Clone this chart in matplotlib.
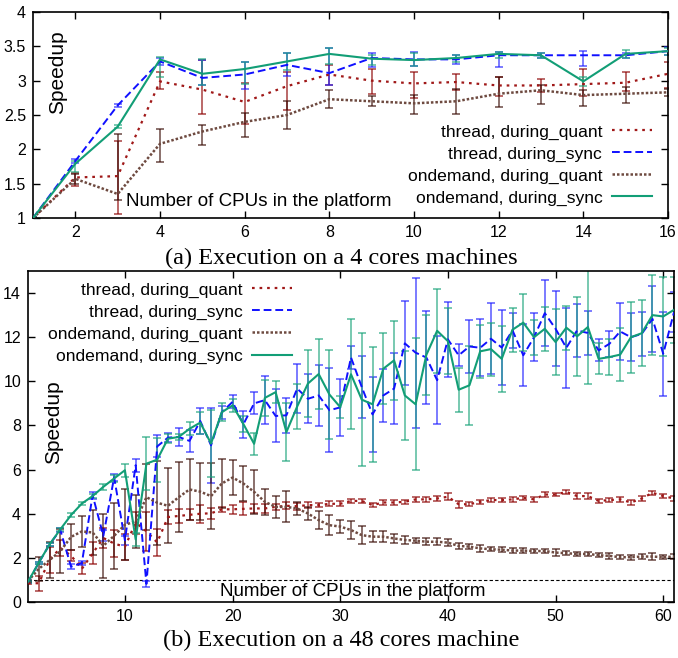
import numpy as np
import matplotlib
matplotlib.use("Agg")
import matplotlib.pyplot as plt

plt.rcParams['font.family'] = ['Liberation Sans', 'DejaVu Sans']

# ---------------- data: 4 cores machine ----------------
cpus4 = list(range(1, 17))
thread_quant_4 = [1.0, 1.59, 1.61, 2.99, 2.87, 2.69, 2.92, 3.09, 3.0, 2.96, 2.98, 2.93, 2.93, 2.95, 2.97, 3.10]
thread_quant_4_lo = [0.02, 0.12, 0.55, 0.11, 0.35, 0.32, 0.34, 0.16, 0.19, 0.21, 0.12, 0.15, 0.10, 0.17, 0.12, 0.20]
thread_quant_4_hi = [0.02, 0.06, 0.51, 0.13, 0.43, 0.28, 0.21, 0.14, 0.17, 0.17, 0.11, 0.12, 0.10, 0.22, 0.16, 0.17]
thread_sync_4 = [1.0, 1.83, 2.64, 3.28, 3.04, 3.09, 3.23, 3.11, 3.33, 3.31, 3.31, 3.37, 3.37, 3.37, 3.37, 3.43]
thread_sync_4_lo = [0.02, 0.03, 0.02, 0.05, 0.11, 0.21, 0.16, 0.18, 0.13, 0.09, 0.06, 0.17, 0.04, 0.15, 0.04, 0.06]
thread_sync_4_hi = [0.02, 0.03, 0.02, 0.05, 0.26, 0.18, 0.17, 0.37, 0.07, 0.11, 0.06, 0.05, 0.04, 0.06, 0.04, 0.06]
ondemand_quant_4 = [1.0, 1.57, 1.35, 2.08, 2.26, 2.40, 2.50, 2.73, 2.70, 2.67, 2.70, 2.81, 2.86, 2.79, 2.81, 2.83]
ondemand_quant_4_lo = [0.02, 0.07, 0.09, 0.26, 0.19, 0.22, 0.20, 0.13, 0.07, 0.15, 0.18, 0.19, 0.20, 0.16, 0.14, 0.05]
ondemand_quant_4_hi = [0.02, 0.07, 0.88, 0.22, 0.10, 0.13, 0.20, 0.14, 0.07, 0.12, 0.18, 0.25, 0.08, 0.08, 0.10, 0.05]
ondemand_sync_4 = [1.0, 1.79, 2.33, 3.31, 3.10, 3.17, 3.28, 3.39, 3.32, 3.30, 3.33, 3.39, 3.37, 2.99, 3.39, 3.43]
ondemand_sync_4_lo = [0.02, 0.12, 0.02, 0.26, 0.17, 0.22, 0.13, 0.14, 0.09, 0.08, 0.06, 0.06, 0.04, 0.07, 0.06, 0.05]
ondemand_sync_4_hi = [0.02, 0.04, 0.02, 0.04, 0.22, 0.10, 0.12, 0.09, 0.06, 0.10, 0.05, 0.03, 0.04, 0.06, 0.06, 0.05]

# ---------------- data: 48 cores machine ----------------
cpus48 = list(range(1, 62))
thread_quant_48 = [0.85, 0.85, 1.9, 2.45, 2.1, 1.5, 2.2, 2.9, 2.65, 2.5, 3.6, 3.2, 2.7, 3.85, 3.9, 3.95, 4.0, 4.02, 4.2, 4.2,
                   4.22, 4.24, 4.24, 4.31, 4.36, 4.34, 4.39, 4.39, 4.45, 4.45, 4.58, 4.58, 4.39, 4.51, 4.51, 4.54, 4.65, 4.65, 4.69, 4.77,
                   4.43, 4.43, 4.54, 4.62, 4.62, 4.65, 4.72, 4.65, 4.87, 4.87, 4.99, 4.8, 4.8, 4.58, 4.62, 4.65, 4.51, 4.69, 4.95, 4.8, 4.69]
thread_quant_48_err = [0.05, 0.35, 0.6, 0.35, 0.25, 0.25, 0.5, 0.45, 0.6, 0.6, 0.5, 0.9, 0.6, 0.3, 0.3, 0.25, 0.4, 0.25, 0.1, 0.2,
                       0.3, 0.2, 0.2, 0.15, 0.15, 0.15, 0.12, 0.1, 0.12, 0.12, 0.1, 0.08, 0.08, 0.1, 0.1, 0.1, 0.12, 0.12, 0.12, 0.15,
                       0.15, 0.1, 0.1, 0.1, 0.1, 0.1, 0.1, 0.12, 0.1, 0.05, 0.1, 0.12, 0.12, 0.08, 0.08, 0.1, 0.1, 0.1, 0.1, 0.08, 0.1]
thread_sync_48 = [0.9, 1.78, 2.61, 3.26, 1.6, 1.76, 4.84, 3.0, 5.65, 2.8, 6.2, 0.82, 7.05, 7.45, 7.48, 7.3, 8.2, 7.1, 8.6, 9.07,
                  8.05, 9.0, 9.15, 8.43, 8.46, 9.67, 9.21, 9.36, 8.69, 8.82, 11.08, 9.74, 8.5, 9.36, 9.67, 11.72, 11.3, 11.08, 10.05, 11.9,
                  11.18, 11.58, 11.52, 11.93, 11.53, 12.31, 11.18, 12.0, 13.09, 12.38, 11.52, 12.31, 12.19, 11.4, 11.7, 12.26, 12.0, 12.15, 12.83, 11.25, 13.13]
thread_sync_48_err = [0.05, 0.05, 0.05, 0.1, 0.1, 0.1, 0.15, 0.25, 0.15, 0.2, 0.3, 0.12, 0.5, 0.2, 0.4, 0.5, 0.6, 1.7, 0.3, 0.3,
                      0.6, 0.5, 1.1, 1.2, 0.8, 1.1, 1.1, 1.4, 1.9, 1.3, 0.5, 1.4, 1.7, 1.2, 1.6, 1.9, 3.4, 2.1, 2.0, 1.7,
                      0.5, 1.2, 1.3, 1.6, 1.7, 0.8, 1.4, 1.1, 1.5, 1.7, 1.8, 1.2, 1.0, 0.5, 0.6, 1.3, 1.1, 1.0, 1.5, 1.9, 0.9]
ondemand_quant_48 = [0.95, 1.5, 1.9, 2.3, 2.95, 3.2, 3.15, 2.55, 3.0, 3.5, 3.65, 4.75, 4.5, 4.36, 4.75, 5.1, 5.0, 4.8, 5.37, 5.64,
                     5.37, 4.99, 4.54, 4.31, 4.31, 4.24, 4.01, 3.71, 3.48, 3.42, 3.26, 3.03, 2.96, 2.96, 2.88, 2.81, 2.78, 2.73, 2.73, 2.69,
                     2.54, 2.51, 2.43, 2.39, 2.37, 2.33, 2.33, 2.31, 2.31, 2.24, 2.21, 2.18, 2.18, 2.12, 2.09, 2.03, 2.03, 2.06, 2.06, 2.03, 2.06]
ondemand_quant_48_err = [0.05, 0.55, 0.8, 1.0, 0.6, 0.7, 1.0, 1.45, 1.5, 1.6, 1.2, 1.5, 1.9, 1.7, 1.6, 1.4, 1.3, 1.5, 1.1, 0.8,
                         0.8, 1.0, 0.6, 0.5, 0.7, 0.3, 0.3, 0.4, 0.45, 0.3, 0.4, 0.4, 0.25, 0.25, 0.2, 0.2, 0.1, 0.15, 0.15, 0.15,
                         0.15, 0.1, 0.15, 0.1, 0.1, 0.1, 0.1, 0.1, 0.1, 0.15, 0.1, 0.1, 0.1, 0.1, 0.15, 0.1, 0.12, 0.1, 0.15, 0.1, 0.12]
ondemand_sync_48 = [0.92, 1.78, 2.61, 3.29, 3.94, 4.46, 4.8, 5.22, 5.6, 5.97, 2.84, 6.27, 6.45, 7.4, 7.48, 7.85, 8.13, 7.18, 8.6, 8.91,
                    8.07, 7.17, 9.25, 9.51, 7.7, 8.86, 9.9, 10.33, 9.4, 8.83, 10.32, 9.17, 8.96, 10.57, 10.95, 9.36, 8.96, 11.2, 12.29, 11.82,
                    9.62, 9.82, 11.36, 11.46, 11.02, 12.34, 12.66, 12.0, 12.38, 11.78, 12.43, 12.04, 12.46, 11.02, 11.1, 11.21, 12.0, 12.18, 13.0, 12.94, 13.24]
ondemand_sync_48_err = [0.05, 0.05, 0.05, 0.07, 0.08, 0.08, 0.1, 0.15, 0.15, 0.3, 0.3, 1.2, 1.0, 0.2, 0.15, 0.3, 0.5, 1.5, 0.4, 0.3,
                        0.35, 0.5, 0.8, 0.5, 1.3, 1.0, 1.5, 1.6, 2.0, 0.5, 2.5, 3.0, 2.6, 1.6, 1.8, 2.0, 3.0, 1.8, 1.9, 1.5,
                        1.0, 1.8, 1.2, 1.2, 1.5, 1.0, 1.3, 0.8, 1.0, 1.5, 1.0, 1.8, 2.6, 0.7, 0.8, 1.2, 1.6, 1.5, 1.8, 1.8, 1.5]

labels = ["thread, during_quant", "thread, during_sync", "ondemand, during_quant", "ondemand, during_sync"]
xlabel = "Number of CPUs in the platform"
ylabel = "Speedup"
caption_a = "(a) Execution on a 4 cores machines"
caption_b = "(b) Execution on a 48 cores machine"

# ---------------- styles ----------------
styles = [
    dict(color="#a01818", ecolor="#8b0000", ls=(0, (1.2, 2.2)), lw=1.6),
    dict(color="#1010ff", ecolor="#2020ff", ls=(0, (4, 2)), lw=1.4),
    dict(color="#6e4a40", ecolor="#3a0c06", ls=(0, (1, 0.8)), lw=1.8),
    dict(color="#129e76", ecolor="#1aa37a", ls="-", lw=1.5),
]

fig = plt.figure(figsize=(6.78, 6.58), dpi=100)
W, H = 678, 658
ax1 = fig.add_axes([33 / W, 1 - 218 / H, (668 - 33) / W, (218 - 12) / H])
ax2 = fig.add_axes([28 / W, 1 - 602 / H, (674 - 28) / W, (602 - 271) / H])


def draw(ax, x, series, errs):
    handles = []
    for (y, e), st in zip(zip(series, errs), styles):
        ax.errorbar(x, y, yerr=np.array(e), fmt='none', ecolor=st["ecolor"], elinewidth=1.1,
                    capsize=2.6, capthick=1.1, alpha=0.75, zorder=2)
        h, = ax.plot(x, y, color=st["color"], linestyle=st["ls"], linewidth=st["lw"], zorder=3)
        handles.append(h)
    return handles


h1 = draw(ax1, cpus4,
          [thread_quant_4, thread_sync_4, ondemand_quant_4, ondemand_sync_4],
          [[thread_quant_4_lo, thread_quant_4_hi], [thread_sync_4_lo, thread_sync_4_hi],
           [ondemand_quant_4_lo, ondemand_quant_4_hi], [ondemand_sync_4_lo, ondemand_sync_4_hi]])
h2 = draw(ax2, cpus48,
          [thread_quant_48, thread_sync_48, ondemand_quant_48, ondemand_sync_48],
          [thread_quant_48_err, thread_sync_48_err, ondemand_quant_48_err, ondemand_sync_48_err])

ax2.axhline(1.0, color="black", lw=0.8, ls=(0, (3, 2)), zorder=1)

ax1.set_xlim(1, 16)
ax1.set_ylim(1, 4)
ax1.set_xticks(range(2, 17, 2))
ax1.set_yticks([1, 1.5, 2, 2.5, 3, 3.5, 4])
ax1.set_yticklabels(["1", "1.5", "2", "2.5", "3", "3.5", "4"])
ax2.set_xlim(1, 61)
ax2.set_ylim(0, 15)
ax2.set_xticks(range(10, 61, 10))
ax2.set_yticks(range(0, 15, 2))

for ax in (ax1, ax2):
    ax.tick_params(direction="in", length=5, width=1, top=True, right=True, labelsize=11.5, pad=5)
    for s in ax.spines.values():
        s.set_linewidth(1.2)

ax1.text(0.038, 0.71, ylabel, transform=ax1.transAxes, rotation=90, ha="center", va="center", fontsize=15)
ax2.text(0.039, 0.544, ylabel, transform=ax2.transAxes, rotation=90, ha="center", va="center", fontsize=15)
ax1.text(0.356, 0.078, xlabel, transform=ax1.transAxes, ha="center", va="center", fontsize=13.5)
ax2.text(0.503, 0.033, xlabel, transform=ax2.transAxes, ha="center", va="center", fontsize=13.5)

leg_kw = dict(frameon=False, markerfirst=False, fontsize=12.6, handlelength=2.3,
              handletextpad=0.55, labelspacing=0.38, borderpad=0, borderaxespad=0)
ax1.legend(h1, labels, loc="lower right", bbox_to_anchor=(0.975, 0.06), **leg_kw)
ax2.legend(h2, labels, loc="upper right", bbox_to_anchor=(0.409, 0.966), **leg_kw)

fig.text(341 / W, 1 - 258 / H, caption_a, ha="center", va="center", fontsize=17.5, family="Liberation Serif")
fig.text(341 / W, 1 - 640 / H, caption_b, ha="center", va="center", fontsize=17.5, family="Liberation Serif")

fig.savefig("out.png", dpi=100)
